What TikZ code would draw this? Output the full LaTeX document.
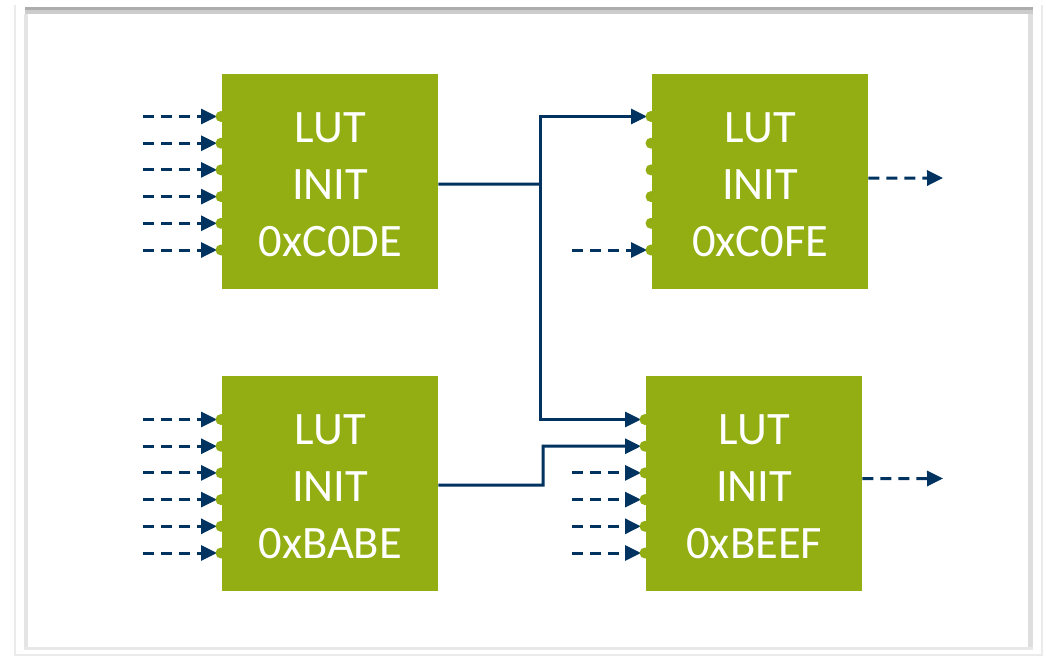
\documentclass[tikz,border=0pt]{standalone}
\usepackage{fontspec}
\setmainfont{Carlito}
\usetikzlibrary{arrows.meta}
\definecolor{lutgreen}{HTML}{92AE12}
\definecolor{wirenavy}{HTML}{00335F}
\begin{document}
\begin{tikzpicture}[x=1pt,y=-1pt,
  lut/.style={fill=lutgreen, draw=none, minimum width=216pt, minimum height=215pt,
    inner sep=0pt, anchor=north west},
  blocktext/.style={text=white, font=\fontsize{46.5}{57}\selectfont, align=center, inner sep=0pt},
  wire/.style={draw=wirenavy, line width=3pt, -{Triangle[length=16pt,width=15pt]}},
  solidwire/.style={wire, shorten >=4pt},
  dashwire/.style={wire, dash pattern=on 11pt off 7pt, shorten >=4pt},
  outwire/.style={wire, dash pattern=on 11pt off 7pt},
  pindot/.style={fill=lutgreen, circle, inner sep=0pt, minimum size=11pt}
]
\useasboundingbox (0,0) rectangle (1046,657);

% page frame
\draw[black!8, line width=2pt] (15,5) -- (15,655) -- (1042,655) -- (1042,5);
\fill[black!20] (25,7) rectangle (1033,14);
\fill[black!32] (25,7) rectangle (1033,10);
\fill[black!10] (24,14) rectangle (28,648);
\fill[black!13] (1028,14) rectangle (1033,648);
\fill[black!9] (24,647) rectangle (1033,650);

% LUT blocks
\node[lut] (a) at (222,74)  {};
\node[lut] (b) at (222,376) {};
\node[lut] (c) at (652,74)  {};
\node[lut] (d) at (646,376) {};
\node[blocktext] (a-txt) at ([yshift=-3pt]a.center) {LUT\\INIT\\0xC0DE};
\node[blocktext] (b-txt) at ([yshift=-3pt]b.center) {LUT\\INIT\\0xBABE};
\node[blocktext] (c-txt) at ([yshift=-3pt]c.center) {LUT\\INIT\\0xC0FE};
\node[blocktext] (d-txt) at ([yshift=-3pt]d.center) {LUT\\INIT\\0xBEEF};

% input pins and their free wire ends
\foreach \n/\dy in {a/0, b/1, c/0, d/1}{
  \foreach \i in {1,...,6}{
    \path (\n.north west) ++(-1, {42.5+\dy+26.7*(\i-1)}) coordinate (\n-\i);
  }
}
\foreach \i in {1,...,6}{
  \path (a-\i) ++(-78,0) coordinate (a-in-\i);
  \path (b-\i) ++(-78,0) coordinate (b-in-\i);
}
\path (c-6) ++(-79,0) coordinate (c-in-6);
\foreach \i in {3,...,6}{
  \path (d-\i) ++(-73,0) coordinate (d-in-\i);
}

% dashed inputs
\foreach \i in {1,...,6}{
  \draw[dashwire] (a-in-\i) -- (a-\i);
  \draw[dashwire] (b-in-\i) -- (b-\i);
}
\draw[dashwire] (c-in-6) -- (c-6);
\foreach \i in {3,...,6}{
  \draw[dashwire] (d-in-\i) -- (d-\i);
}

% internal connections
\coordinate (a-out) at ([yshift=-2.5pt]a.east);
\coordinate (j1) at (540,184);
\coordinate (b-out) at ([yshift=-1.5pt]b.east);
\coordinate (b-bend) at (543,485);
\draw[draw=wirenavy, line width=3pt] (a-out) -- (j1);
\draw[solidwire] (j1) |- (c-1);
\draw[solidwire] (j1) |- (d-1);
\draw[solidwire] (b-out) -- (b-bend) |- (d-2);

% outputs
\coordinate (c-out) at ([yshift=3.5pt]c.east);
\coordinate (d-out) at ([yshift=5pt]d.east);
\coordinate (c-end) at (943,178);
\coordinate (d-end) at (943,478.5);
\draw[outwire] (c-out) -- (c-end);
\draw[outwire] (d-out) -- (d-end);

% pin dots
\foreach \n in {a,b,c,d}{
  \foreach \i in {1,...,6}{
    \node[pindot] at (\n-\i) {};
  }
}
\end{tikzpicture}
\end{document}
